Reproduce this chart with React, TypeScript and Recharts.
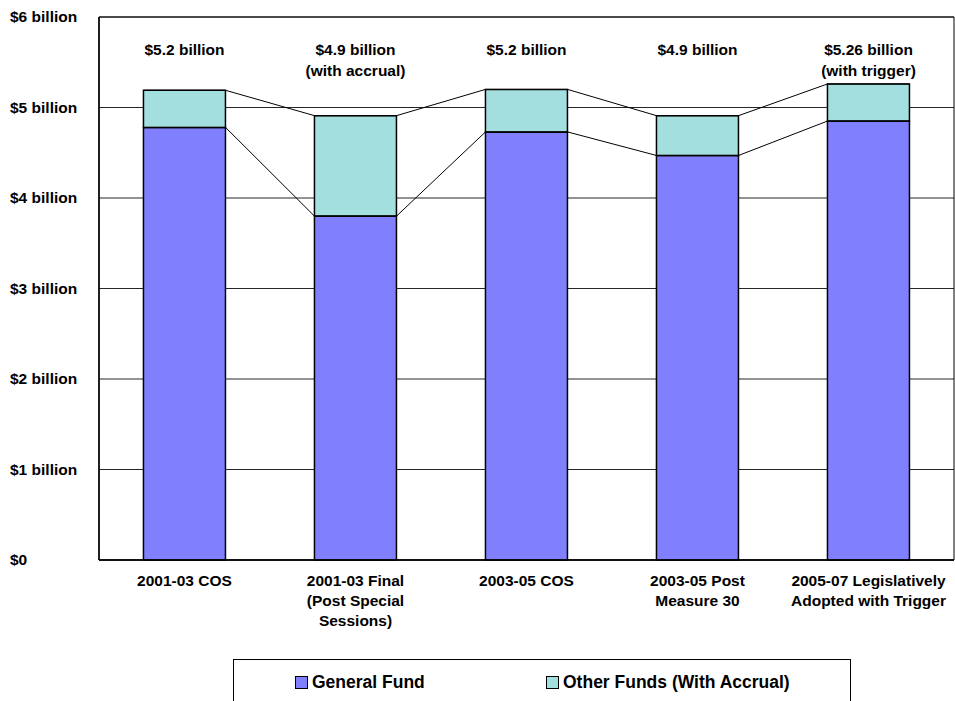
import React from 'react';
import {
  ComposedChart,
  Bar,
  XAxis,
  YAxis,
  CartesianGrid,
  Scatter,
  Legend,
  ReferenceArea,
} from 'recharts';

const categories = [
  '2001-03 COS',
  '2001-03 Final\n(Post Special\nSessions)',
  '2003-05 COS',
  '2003-05 Post\nMeasure 30',
  '2005-07 Legislatively\nAdopted with Trigger',
];
const generalFund = [4.78, 3.8, 4.73, 4.47, 4.85];
const otherFunds = [0.41, 1.11, 0.47, 0.44, 0.41];
const totalLabels = ['$5.2 billion', '$4.9 billion', '$5.2 billion', '$4.9 billion', '$5.26 billion'];
const labelNotes = ['', '(with accrual)', '', '', '(with trigger)'];
const yTicks = [0, 1, 2, 3, 4, 5, 6];
const yTickLabels = ['$0', '$1 billion', '$2 billion', '$3 billion', '$4 billion', '$5 billion', '$6 billion'];

const LABEL_LEVEL = 5.64;
const BAR_GAP = 0.26;
const HALF_BAR = (1 - 2 * BAR_GAP) / 2;

const FONT = '"Liberation Sans", Arial, Helvetica, sans-serif';
const GF_COLOR = '#8080FF';
const OF_COLOR = '#A3DFDF';

const data = categories.map((name, i) => ({
  name,
  gf: generalFund[i],
  of: otherFunds[i],
}));

const totals = generalFund.map((v, i) => v + otherFunds[i]);

const edgePoints = (values: number[]) =>
  values.flatMap((v, i) => [
    { x: i - HALF_BAR, y: v },
    { x: i + HALF_BAR, y: v },
  ]);

const gfLine = edgePoints(generalFund);
const totalLine = edgePoints(totals);

const labelPoints = totalLabels.map((t, i) => ({
  x: i,
  y: LABEL_LEVEL,
  lines: labelNotes[i] ? [t, labelNotes[i]] : [t],
}));

const YTick = (props: any) => {
  const { y, payload } = props;
  const idx = yTicks.indexOf(payload.value);
  return (
    <text
      x={10}
      y={y}
      dy={5}
      textAnchor="start"
      fontFamily={FONT}
      fontWeight="bold"
      fontSize={15.5}
      fill="#000"
    >
      {yTickLabels[idx]}
    </text>
  );
};

const XTick = (props: any) => {
  const { x, y, payload } = props;
  const lines = String(payload.value).split('\n');
  return (
    <text
      x={x}
      y={y}
      textAnchor="middle"
      fontFamily={FONT}
      fontWeight="bold"
      fontSize={15.5}
      fill="#000"
    >
      {lines.map((l, i) => (
        <tspan key={i} x={x} dy={i === 0 ? 18 : 20}>
          {l}
        </tspan>
      ))}
    </text>
  );
};

const LabelShape = (props: any) => {
  const { cx, cy, payload } = props;
  const lines: string[] = payload?.lines || [];
  return (
    <text
      x={cx}
      y={cy}
      textAnchor="middle"
      fontFamily={FONT}
      fontWeight="bold"
      fontSize={15.5}
      fill="#000"
    >
      {lines.map((l, i) => (
        <tspan key={i} x={cx} dy={i === 0 ? 5 : 21}>
          {l}
        </tspan>
      ))}
    </text>
  );
};

const NoShape = () => <g />;

const LegendBox = (props: any) => {
  const payload = (props.payload || []).filter((p: any) => p.type !== 'none');
  const offsets = [61, 312];
  return (
    <div
      style={{
        border: '1px solid #000',
        boxSizing: 'border-box',
        width: 618,
        height: 60,
        position: 'relative',
        background: '#fff',
        fontFamily: FONT,
        fontWeight: 'bold',
        fontSize: 17.5,
        color: '#000',
      }}
    >
      {payload.map((p: any, i: number) => (
        <div
          key={i}
          style={{
            position: 'absolute',
            left: offsets[i] ?? 0,
            top: 12,
            display: 'flex',
            alignItems: 'center',
            whiteSpace: 'nowrap',
          }}
        >
          <span
            style={{
              display: 'inline-block',
              width: 11,
              height: 11,
              background: p.color,
              border: '1px solid #000',
              marginRight: 4,
            }}
          />
          <span>{p.value}</span>
        </div>
      ))}
    </div>
  );
};

export default function App() {
  return (
    <div style={{ position: 'absolute', left: 0, top: 0, width: 955, height: 701, overflow: 'hidden', background: '#fff' }}>
      <ComposedChart
        width={955}
        height={701}
        data={data}
        margin={{ top: 17, right: 1, left: 0, bottom: 81 }}
        barCategoryGap={`${BAR_GAP * 100}%`}
      >
        <CartesianGrid horizontal vertical={false} stroke="#000" strokeOpacity={0.85} />
        <XAxis
          dataKey="name"
          type="category"
          interval={0}
          height={60}
          tickLine={false}
          axisLine={{ stroke: '#000', strokeWidth: 1.5 }}
          tick={<XTick />}
        />
        <XAxis
          xAxisId="num"
          dataKey="x"
          type="number"
          domain={[-0.5, 4.5]}
          allowDataOverflow
          hide
        />
        <YAxis
          type="number"
          domain={[0, 6]}
          ticks={yTicks}
          width={99}
          tickLine={false}
          axisLine={{ stroke: '#000', strokeWidth: 1.5 }}
          tick={<YTick />}
          interval={0}
        />
        <ReferenceArea
          xAxisId="num"
          x1={-0.5}
          x2={4.5}
          y1={0}
          y2={6}
          fill="none"
          stroke="#000"
          strokeWidth={1}
          ifOverflow="extendDomain"
        />
        <Bar
          dataKey="gf"
          name="General Fund"
          stackId="a"
          fill={GF_COLOR}
          stroke="#000"
          strokeWidth={1.5}
          isAnimationActive={false}
        />
        <Bar
          dataKey="of"
          name="Other Funds (With Accrual)"
          stackId="a"
          fill={OF_COLOR}
          stroke="#000"
          strokeWidth={1.5}
          isAnimationActive={false}
        />
        <Scatter
          xAxisId="num"
          data={totalLine}
          dataKey="y"
          line={{ stroke: '#000', strokeWidth: 1 }}
          shape={<NoShape />}
          legendType="none"
          isAnimationActive={false}
        />
        <Scatter
          xAxisId="num"
          data={gfLine}
          dataKey="y"
          line={{ stroke: '#000', strokeWidth: 1 }}
          shape={<NoShape />}
          legendType="none"
          isAnimationActive={false}
        />
        <Scatter
          xAxisId="num"
          data={labelPoints}
          dataKey="y"
          shape={<LabelShape />}
          legendType="none"
          isAnimationActive={false}
        />
        <Legend
          verticalAlign="middle"
          layout="horizontal"
          content={<LegendBox />}
          wrapperStyle={{ left: 233, top: 659, width: 618 }}
        />
      </ComposedChart>
    </div>
  );
}
